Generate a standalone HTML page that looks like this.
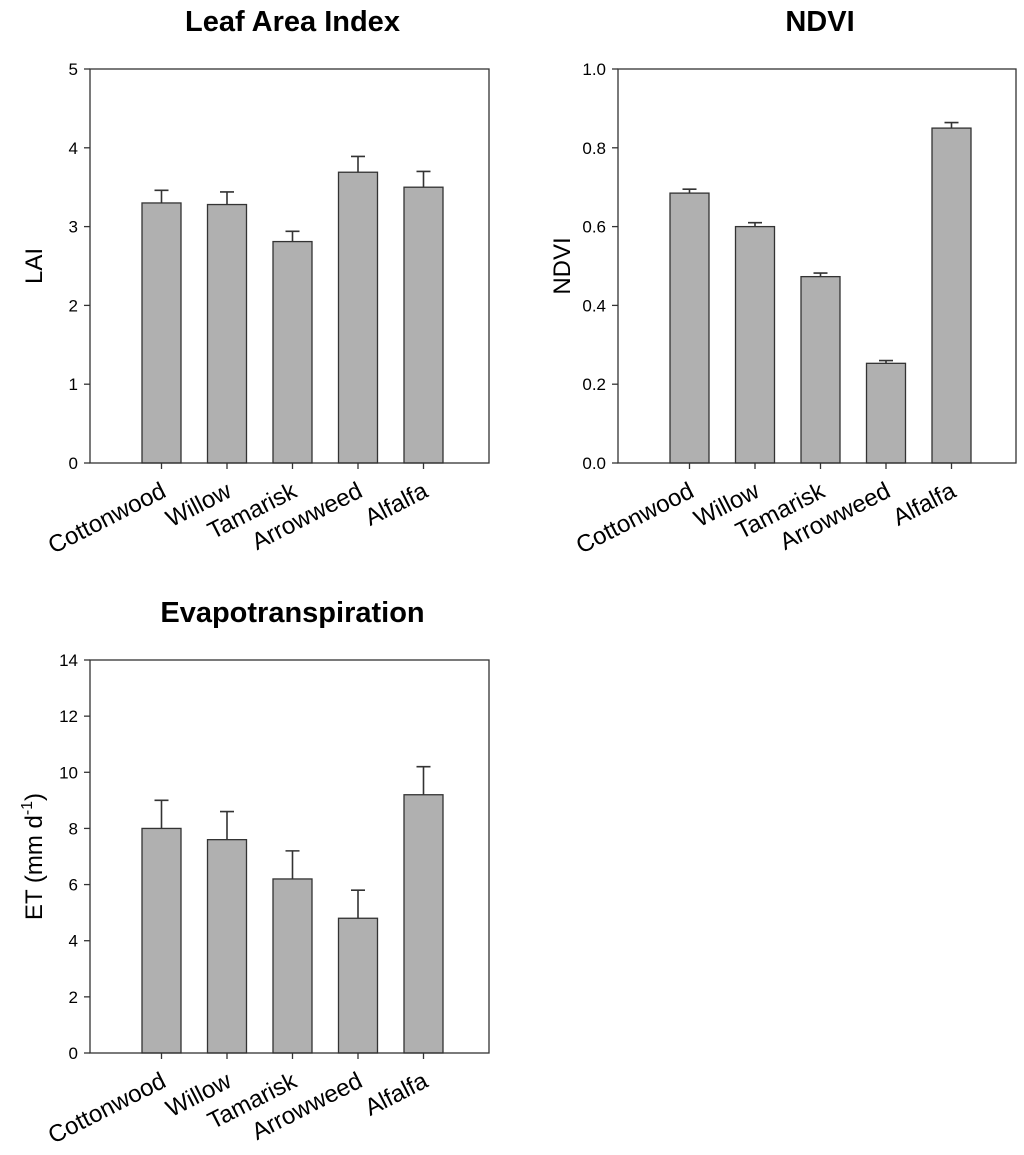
<!DOCTYPE html>
<html><head><meta charset="utf-8"><style>
body{margin:0;background:#fff}
svg{display:block;font-family:"Liberation Sans",Arial,sans-serif}
</style></head><body>
<svg id="c" width="1024" height="1155" viewBox="0 0 1024 1155"></svg>
<script>
const categories=["Cottonwood","Willow","Tamarisk","Arrowweed","Alfalfa"];
const laiValues=[3.30,3.28,2.81,3.69,3.50];
const laiErrors=[0.16,0.16,0.13,0.20,0.20];
const laiTicks=[0,1,2,3,4,5];
const ndviValues=[0.685,0.600,0.473,0.253,0.850];
const ndviErrors=[0.010,0.010,0.009,0.007,0.014];
const ndviTicks=["0.0","0.2","0.4","0.6","0.8","1.0"];
const etValues=[8.0,7.6,6.2,4.8,9.2];
const etErrors=[1.0,1.0,1.0,1.0,1.0];
const etTicks=[0,2,4,6,8,10,12,14];

const NS="http://www.w3.org/2000/svg";
const svg=document.getElementById('c');
const LC='#333';
function mk(tag,attrs,parent,text){const e=document.createElementNS(NS,tag);for(const k in attrs)e.setAttribute(k,attrs[k]);if(text!==undefined)e.textContent=text;(parent||svg).appendChild(e);return e;}

function panel(name,title,ylabel,vals,errs,ticks,box){
  const g=mk('g',{});
  
  
  const {x0,x1,y0,y1}=box;
  const tmin=+ticks[0],tmax=+ticks[ticks.length-1];
  const ys=v=>y1-(v-tmin)/(tmax-tmin)*(y1-y0);
  const step=65.5, first=x0+71.5, bw=39;
  const xs=i=>first+i*step;
  const t=mk('text',{x:(x0+x1)/2+3,y:y0-38,'text-anchor':'middle','font-size':29,'font-weight':'bold'},g,title);
  
  
  const yl=mk('text',{transform:`translate(${x0-48},${(y0+y1)/2}) rotate(-90)`,'text-anchor':'middle','font-size':24},g);
  
  
  if(ylabel==='ET'){yl.textContent='ET (mm d';mk('tspan',{dy:-10,'font-size':16},yl,'-1');mk('tspan',{dy:10},yl,')');}
  else yl.textContent=ylabel;
  vals.forEach((v,i)=>{
    const cx=xs(i);
    const top=ys(v+errs[i]);
    const e=mk('path',{d:`M${cx},${ys(v)}V${top}M${cx-7},${top}H${cx+7}`,stroke:LC,'stroke-width':1.6,fill:'none'},g);
    
    
    const r=mk('rect',{x:cx-bw/2,y:ys(v),width:bw,height:ys(tmin)-ys(v),fill:'#b0b0b0',stroke:LC,'stroke-width':1.3},g);
    
    
    mk('line',{x1:cx,x2:cx,y1:y1,y2:y1+6,stroke:LC,'stroke-width':1.3},g);
    const lb=mk('text',{transform:`translate(${cx+6},${y1+33}) rotate(-27)`,'text-anchor':'end','font-size':24},g,categories[i]);
    
    
  });
  const b=mk('rect',{x:x0,y:y0,width:x1-x0,height:y1-y0,fill:'none',stroke:LC,'stroke-width':1.3},g);
  
  
  ticks.forEach(tk=>{
    const y=ys(+tk);
    mk('line',{x1:x0-6,x2:x0,y1:y,y2:y,stroke:LC,'stroke-width':1.3},g);
    const tl=mk('text',{x:x0-12,y:y+6,'text-anchor':'end','font-size':17},g,String(tk));
    
    
  });
}
panel('lai','Leaf Area Index','LAI',laiValues,laiErrors,laiTicks,{x0:90,x1:489,y0:69,y1:463});
panel('ndvi','NDVI','NDVI',ndviValues,ndviErrors,ndviTicks,{x0:618,x1:1016,y0:69,y1:463});
panel('et','Evapotranspiration','ET',etValues,etErrors,etTicks,{x0:90,x1:489,y0:660,y1:1053});
</script>
</body></html>
